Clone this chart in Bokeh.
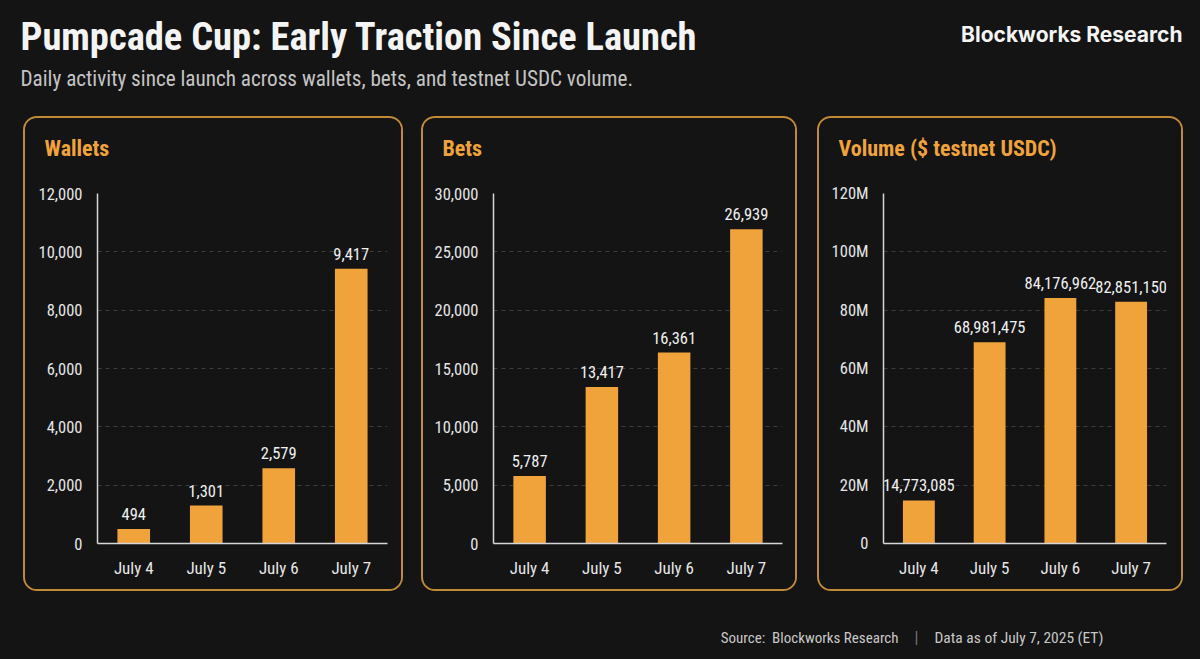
from bokeh.plotting import figure
from bokeh.layouts import column, row
from bokeh.models import (Range1d, FactorRange, FixedTicker, NumeralTickFormatter, ColumnDataSource)
from bokeh.core.properties import value
from bokeh.embed import file_html
from bokeh.resources import INLINE

# ---------------- data ----------------
dates = ["July 4", "July 5", "July 6", "July 7"]
wallets = [494, 1301, 2579, 9417]
bets = [5787, 13417, 16361, 26939]
volume = [14773085, 68981475, 84176962, 82851150]

wallet_ticks = [0, 2000, 4000, 6000, 8000, 10000, 12000]
bet_ticks = [0, 5000, 10000, 15000, 20000, 25000, 30000]
volume_ticks = [0, 20e6, 40e6, 60e6, 80e6, 100e6, 120e6]
volume_tick_labels = ["0", "20M", "40M", "60M", "80M", "100M", "120M"]

title_text = "Pumpcade Cup: Early Traction Since Launch"
subtitle_text = "Daily activity since launch across wallets, bets, and testnet USDC volume."
brand_text = "Blockworks Research"
panel_titles = ["Wallets", "Bets", "Volume ($ testnet USDC)"]
source_text = "Source:\u00a0 Blockworks Research"
asof_text = "Data as of July 7, 2025 (ET)"

BG = "#141414"
ORANGE = "#f0a33b"
BORDER = "#c08a36"
FONT = "Roboto Condensed"


def blank(width, height):
    f = figure(width=width, height=height, x_range=Range1d(0, width), y_range=Range1d(height, 0),
               output_backend="svg", toolbar_location=None, min_border=0)
    f.axis.visible = False
    f.grid.visible = False
    f.outline_line_color = None
    f.background_fill_color = BG
    f.border_fill_color = BG
    return f


# ---------------- header ----------------
header = blank(1200, 108)
header.text(x=[20], y=[36], text=[title_text], text_font=value(FONT), text_font_style="bold",
            text_font_size="38.5px", text_color="#f4f4f4", text_baseline="middle")
header.text(x=[20], y=[78], text=[subtitle_text], text_font=value(FONT),
            text_font_size="21.2px", text_color="#c4c4c4", text_baseline="middle")
header.text(x=[1182], y=[34], text=[brand_text], text_font=value("Inter"), text_font_style="bold",
            text_font_size="21px", text_color="#f4f4f4", text_baseline="middle", text_align="right")


def panel(width, margin_left, frame_left, frame_right, vals, ticks, title, tick_labels=None):
    # title strip (its plot frame gets aligned with the chart below; the title itself is a Title)
    tfig = figure(width=width, height=60, x_range=Range1d(0, 1), y_range=Range1d(0, 1),
                  output_backend="svg", toolbar_location=None,
                  min_border_left=frame_left, min_border_right=frame_right,
                  min_border_top=0, min_border_bottom=0)
    tfig.axis.visible = False
    tfig.grid.visible = False
    tfig.outline_line_color = None
    tfig.background_fill_color = BG
    tfig.border_fill_color = BG
    tfig.title.text = title
    tfig.title.align = "left"
    tfig.title.offset = -(frame_left - 19)
    tfig.title.standoff = 30
    tfig.title.text_color = ORANGE
    tfig.title.text_font = FONT
    tfig.title.text_font_style = "bold"
    tfig.title.text_font_size = "22px"

    src = ColumnDataSource(dict(x=dates, y=vals, lab=[f"{v:,}" for v in vals]))
    p = figure(width=width, height=411, x_range=FactorRange(*dates, range_padding=0),
               y_range=Range1d(0, ticks[-1]), output_backend="svg", toolbar_location=None,
               min_border_left=frame_left, min_border_right=frame_right,
               min_border_top=15, min_border_bottom=46)
    p.background_fill_color = BG
    p.border_fill_color = BG
    p.outline_line_color = None
    p.vbar(x="x", top="y", width=0.45, source=src, color=ORANGE, line_color=None)
    p.text(x="x", y="y", text="lab", source=src, text_align="center", text_baseline="middle",
           y_offset=-15, text_font=value(FONT), text_font_size="16.5px", text_color="#f0f0f0")
    p.yaxis.ticker = FixedTicker(ticks=ticks)
    if tick_labels is None:
        p.yaxis.formatter = NumeralTickFormatter(format="0,0")
    else:
        p.yaxis.major_label_overrides = {t: l for t, l in zip(ticks, tick_labels)}
    for ax in (p.xaxis, p.yaxis):
        ax.major_tick_line_color = None
        ax.minor_tick_line_color = None
        ax.axis_line_color = "#d6d6d6"
        ax.axis_line_width = 1.5
        ax.major_label_text_color = "#e6e6e6"
        ax.major_label_text_font = FONT
        ax.major_label_text_font_size = "16.5px"
    p.xaxis.major_label_text_font_size = "17px"
    p.yaxis.major_label_standoff = 9
    p.xaxis.major_label_standoff = 8
    p.xgrid.grid_line_color = None
    p.ygrid.grid_line_color = "#3d3d3d"
    p.ygrid.grid_line_dash = "4 4"
    p.ygrid.grid_line_width = 1

    return column(tfig, p, spacing=0, margin=(8, 0, 9, margin_left),
                  styles={"border": f"2px solid {BORDER}", "border-radius": "14px",
                          "box-sizing": "content-box", "overflow": "hidden",
                          "background-color": BG})


p1 = panel(376, 23, 72, 14, wallets, wallet_ticks, panel_titles[0])
p2 = panel(372, 18, 70, 13, bets, bet_ticks, panel_titles[1])
p3 = panel(362, 20, 64, 15, volume, volume_ticks, panel_titles[2], volume_tick_labels)

# ---------------- footer ----------------
footer = blank(1200, 59)
footer.text(x=[898], y=[37], text=[source_text], text_font=value(FONT),
            text_font_size="15px", text_color="#c8c8c8", text_baseline="middle", text_align="right")
footer.text(x=[916], y=[37], text=["|"], text_font=value(FONT),
            text_font_size="16px", text_color="#777777", text_baseline="middle", text_align="center")
footer.text(x=[934], y=[37], text=[asof_text], text_font=value(FONT),
            text_font_size="15.5px", text_color="#c8c8c8", text_baseline="middle")

layout = column(header, row(p1, p2, p3, spacing=0), footer, spacing=0,
                styles={"background-color": BG})
open("out.html", "w").write(file_html(layout, INLINE))
